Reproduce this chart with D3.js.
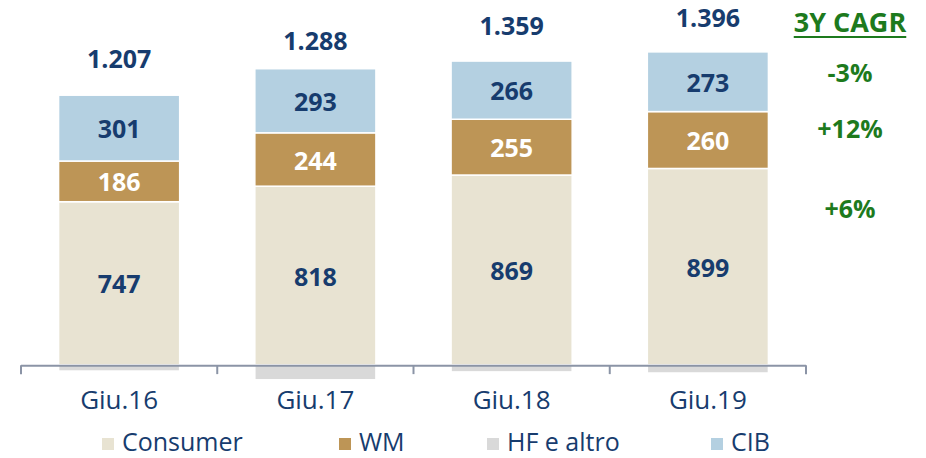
<!DOCTYPE html>
<html>
<head>
<meta charset="utf-8">
<script src="https://cdn.jsdelivr.net/npm/d3@7/dist/d3.min.js"></script>
<style>
  html, body { margin: 0; padding: 0; background: #fff; }
  svg { display: block; font-family: "Open Sans", "DejaVu Sans", sans-serif; }
</style>
</head>
<body>
<svg id="chart"></svg>
<script>
// data
var categories = ["Giu.16", "Giu.17", "Giu.18", "Giu.19"];
var seriesNames = ["Consumer", "WM", "HF e altro", "CIB"];
var consumer = [747, 818, 869, 899];
var wm = [186, 244, 255, 260];
var hf = [-27, -67, -31, -36];
var cib = [301, 293, 266, 273];
var totals = [1207, 1288, 1359, 1396];
var cagrTitle = "3Y CAGR";
var cagrLabels = ["-3%", "+12%", "+6%"];

var width = 926;
var height = 458;
var navy = "#173c6e";
var green = "#1d7a1d";
var color = {
  "Consumer": "#e8e3d2",
  "WM": "#bd9556",
  "HF e altro": "#d9d9d9",
  "CIB": "#b4d0e1"
};
var labelColor = { "Consumer": navy, "WM": "#fff", "HF e altro": navy, "CIB": navy };

var it = d3.formatLocale({ decimal: ",", thousands: ".", grouping: [3], currency: ["€", ""] });
var fmtTotal = it.format(",");

var svg = d3.select("#chart")
  .attr("width", width)
  .attr("height", height);

var rows = categories.map(function(c, i) {
  return { cat: c, "Consumer": consumer[i], "WM": wm[i], "HF e altro": hf[i], "CIB": cib[i] };
});

var stack = d3.stack()
  .keys(seriesNames)
  .offset(d3.stackOffsetDiverging);
var series = stack(rows);

var x = d3.scaleBand()
  .domain(categories)
  .range([21, 806])
  .paddingInner(0.383)
  .paddingOuter(0.1915);

var y = d3.scaleLinear()
  .domain([-100, 1500])
  .range([387, 37]);

// bars
var groups = svg.append("g").selectAll("g")
  .data(series)
  .enter()
  .append("g")
  .attr("fill", function(d) { return color[d.key]; });

groups.selectAll("rect")
  .data(function(d) { return d.map(function(p) { p.key = d.key; return p; }); })
  .enter()
  .append("rect")
  .attr("x", function(d) { return x(d.data.cat); })
  .attr("width", x.bandwidth())
  .attr("y", function(d) { return y(Math.max(d[0], d[1])); })
  .attr("height", function(d) { return Math.abs(y(d[0]) - y(d[1])); })
  .attr("stroke", "#fff")
  .attr("stroke-width", 1.5);

// segment labels (not for the small HF part)
groups.filter(function(d) { return d.key !== "HF e altro"; })
  .selectAll("text")
  .data(function(d) { return d; })
  .enter()
  .append("text")
  .attr("x", function(d) { return x(d.data.cat) + x.bandwidth() / 2; })
  .attr("y", function(d) { return (y(d[0]) + y(d[1])) / 2; })
  .attr("text-anchor", "middle")
  .attr("dominant-baseline", "central")
  .style("font-size", "25px")
  .style("font-weight", "bold")
  .attr("fill", function(d) { return labelColor[d.key]; })
  .text(function(d) { return d.data[d.key]; });

// totals
svg.append("g").selectAll("text")
  .data(totals)
  .enter()
  .append("text")
  .attr("x", function(d, i) { return x(categories[i]) + x.bandwidth() / 2; })
  .attr("y", function(d) { return y(d) - 43; })
  .attr("text-anchor", "middle")
  .attr("dominant-baseline", "central")
  .style("font-size", "25px")
  .style("font-weight", "bold")
  .attr("fill", navy)
  .text(function(d) { return fmtTotal(d); });

// axis
var axis = svg.append("g");
var x0 = x.range()[0], x1 = x.range()[1];
axis.append("line")
  .attr("x1", x0).attr("x2", x1)
  .attr("y1", y(0) + 0.5).attr("y2", y(0) + 0.5)
  .attr("stroke", "#8b94a6")
  .attr("stroke-width", 2);
axis.selectAll(".tick")
  .data(d3.range(categories.length + 1))
  .enter()
  .append("line")
  .attr("x1", function(i) { return x0 + i * x.step(); })
  .attr("x2", function(i) { return x0 + i * x.step(); })
  .attr("y1", y(0))
  .attr("y2", y(0) + 9)
  .attr("stroke", "#8b94a6")
  .attr("stroke-width", 2);
axis.selectAll("text")
  .data(categories)
  .enter()
  .append("text")
  .attr("x", function(d) { return x(d) + x.bandwidth() / 2; })
  .attr("y", 409)
  .attr("text-anchor", "middle")
  .style("font-size", "26px")
  .attr("fill", navy)
  .text(function(d) { return d; });

// legend
var legendX = [102, 339, 487, 711];
var legend = svg.append("g").selectAll("g")
  .data(seriesNames)
  .enter()
  .append("g")
  .attr("transform", function(d, i) { return "translate(" + legendX[i] + ",438)"; });
legend.append("rect")
  .attr("width", 12)
  .attr("height", 12)
  .attr("fill", function(d) { return color[d]; });
legend.append("text")
  .attr("x", 20)
  .attr("y", 13)
  .style("font-size", "25px")
  .attr("fill", navy)
  .text(function(d) { return d; });

// CAGR column
var cagr = svg.append("g").attr("fill", green).style("font-weight", "bold");
var title = cagr.append("text")
  .attr("x", 850)
  .attr("y", 32)
  .attr("text-anchor", "middle")
  .style("font-size", "27px")
  .text(cagrTitle);
var tw = title.node().getComputedTextLength();
cagr.append("line")
  .attr("x1", 850 - tw / 2).attr("x2", 850 + tw / 2)
  .attr("y1", 37).attr("y2", 37)
  .attr("stroke", green)
  .attr("stroke-width", 2);
var cagrY = [82, 138, 218];
cagr.selectAll(".cagr")
  .data(cagrLabels)
  .enter()
  .append("text")
  .attr("x", 850)
  .attr("y", function(d, i) { return cagrY[i]; })
  .attr("text-anchor", "middle")
  .style("font-size", "25px")
  .text(function(d) { return d; });
</script>
</body>
</html>
